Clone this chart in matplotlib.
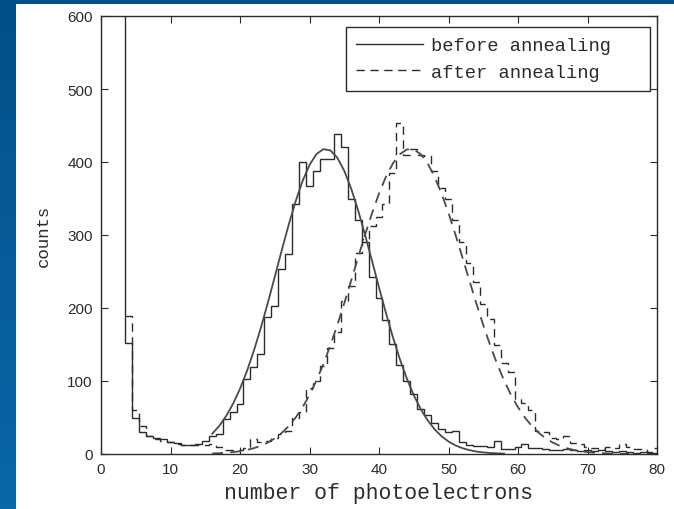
import numpy as np
import matplotlib
matplotlib.use("Agg")
import matplotlib.pyplot as plt
from matplotlib.lines import Line2D
from matplotlib.patches import Rectangle
from matplotlib.colors import LinearSegmentedColormap

# histogram data (bin width 1 photoelectron)
bin_width = 1.0
before_first_edge = 2.5   # first bin 2.5-3.5 is the off-scale pedestal spike
before_counts = [700, 152, 49, 30, 24, 22, 20, 17, 15, 12,
                 13, 14, 18, 25, 28, 48, 57, 68, 103, 119,
                 137, 188, 203, 253, 274, 343, 400, 367, 388, 404,
                 404, 438, 421, 349, 320, 291, 242, 214, 183, 151,
                 122, 100, 82, 62, 53, 43, 34, 30, 31, 16,
                 12, 11, 11, 10, 18, 7, 7, 10, 14, 8,
                 8, 7, 6, 5, 7, 5, 4, 6, 4, 5,
                 4, 3, 4, 3, 2, 3, 2, 2]

after_first_edge = 3.5
after_counts = [189, 60, 38, 25, 20, 18, 16, 14, 12, 13,
                12, 12, 14, 10, 6, 5, 5, 8, 20, 16,
                18, 22, 28, 32, 50, 58, 90, 100, 120, 145,
                167, 210, 230, 275, 295, 312, 325, 342, 385, 454,
                410, 418, 410, 408, 388, 365, 349, 320, 290, 262,
                235, 205, 185, 150, 125, 112, 75, 70, 60, 32,
                30, 22, 20, 25, 15, 14, 10, 8, 7, 10,
                8, 14, 10, 7, 7, 3, 8]

# fitted curves
before_fit_start = 16
before_fit = [27.8, 38.3, 51.9, 68.8, 89.3, 113.6, 141.6, 172.9, 207.0, 242.6,
              278.8, 313.8, 346.1, 374.0, 396.0, 410.9, 417.6, 415.9, 405.9, 388.0,
              363.5, 333.6, 300.0, 264.4, 228.2, 193.1, 160.0, 130.0, 103.4, 80.6,
              61.6, 46.1, 33.8, 24.3, 17.1, 11.8, 8.0, 5.3, 3.4, 2.2,
              1.4, 0.9, 0.5]

after_fit_start = 16
after_fit = [0.7, 1.1, 1.7, 2.6, 3.8, 5.6, 8.0, 11.3, 15.7, 21.4,
             28.8, 38.2, 49.8, 64.0, 80.8, 100.7, 123.3, 148.8, 176.7, 206.5,
             237.7, 269.4, 300.5, 330.0, 356.8, 379.8, 398.1, 410.7, 417.2, 417.2,
             410.7, 398.1, 379.8, 356.8, 330.0, 300.5, 269.4, 237.7, 206.5, 176.7,
             148.8, 123.3, 100.7, 80.8, 64.0, 49.8, 38.2, 28.8, 21.4, 15.7,
             11.3, 8.0, 5.6, 3.8, 2.6, 1.7, 1.1, 0.7, 0.4, 0.3,
             0.2]

legend_labels = ["before annealing", "after annealing"]
xticks = [0, 10, 20, 30, 40, 50, 60, 70, 80]
yticks = [0, 100, 200, 300, 400, 500, 600]

W, H = 674, 510
ink = "#2b2b2b"
fit_col = "#4a4a4a"
dash = (0, (6, 4))
mono = "Liberation Mono"
sans = "Liberation Sans"

fig = plt.figure(figsize=(W / 100, H / 100), dpi=100)

# slide background: blue gradient with a white panel
bg = fig.add_axes([0, 0, 1, 1])
bg.axis("off")
cmap = LinearSegmentedColormap.from_list("slide", ["#034f88", "#0a67a8"])
bg.imshow(np.linspace(0, 1, 256).reshape(-1, 1), aspect="auto", cmap=cmap,
          extent=[0, 1, 0, 1], origin="upper")
bg.add_patch(Rectangle((16 / W, 0), 1 - 16 / W, (H - 5) / H,
                       transform=bg.transAxes, facecolor="white", edgecolor="none"))
bg.set_xlim(0, 1)
bg.set_ylim(0, 1)

ax = fig.add_axes([101 / W, 55 / H, 556 / W, 438 / H])
ax.set_facecolor("white")

before_edges = before_first_edge + bin_width * np.arange(len(before_counts) + 1)
after_edges = after_first_edge + bin_width * np.arange(len(after_counts) + 1)
ax.stairs(before_counts, before_edges, baseline=None, color=ink, lw=1.0)
ax.stairs(after_counts, after_edges, baseline=None, color=ink, lw=1.0, linestyle=dash)

bx = before_fit_start + np.arange(len(before_fit))
axx = after_fit_start + np.arange(len(after_fit))
ax.plot(bx, before_fit, color=fit_col, lw=1.3)
ax.plot(axx, after_fit, color=fit_col, lw=1.3, linestyle=dash)

ax.set_xlim(0, 80)
ax.set_ylim(0, 600)
ax.set_xticks(xticks)
ax.set_yticks(yticks)
ax.tick_params(direction="in", top=True, right=True, length=5, width=0.8,
               labelsize=11, colors=ink, pad=6)
for lab in ax.get_xticklabels() + ax.get_yticklabels():
    lab.set_fontfamily(sans)
for sp in ax.spines.values():
    sp.set_color(ink)
    sp.set_linewidth(1.0)

ax.set_xlabel("number of photoelectrons", fontfamily=mono, fontsize=15.5,
              color=ink, labelpad=4)
ax.set_ylabel("counts", fontfamily=mono, fontsize=12.5, color=ink, labelpad=12)

handles = [Line2D([], [], color=ink, lw=1.0),
           Line2D([], [], color=ink, lw=1.0, linestyle=dash)]
leg = ax.legend(handles, legend_labels, loc="upper left",
                bbox_to_anchor=(0.44, 0.975, 0.547, 0.0), mode="expand",
                borderaxespad=0, prop={"family": mono, "size": 13.5},
                handlelength=3.6, handletextpad=0.4, labelspacing=0.5,
                borderpad=0.55, fancybox=False, framealpha=1)
leg.get_frame().set_edgecolor(ink)
leg.get_frame().set_linewidth(1.0)
for t in leg.get_texts():
    t.set_color(ink)

fig.savefig("out.png", dpi=100)
